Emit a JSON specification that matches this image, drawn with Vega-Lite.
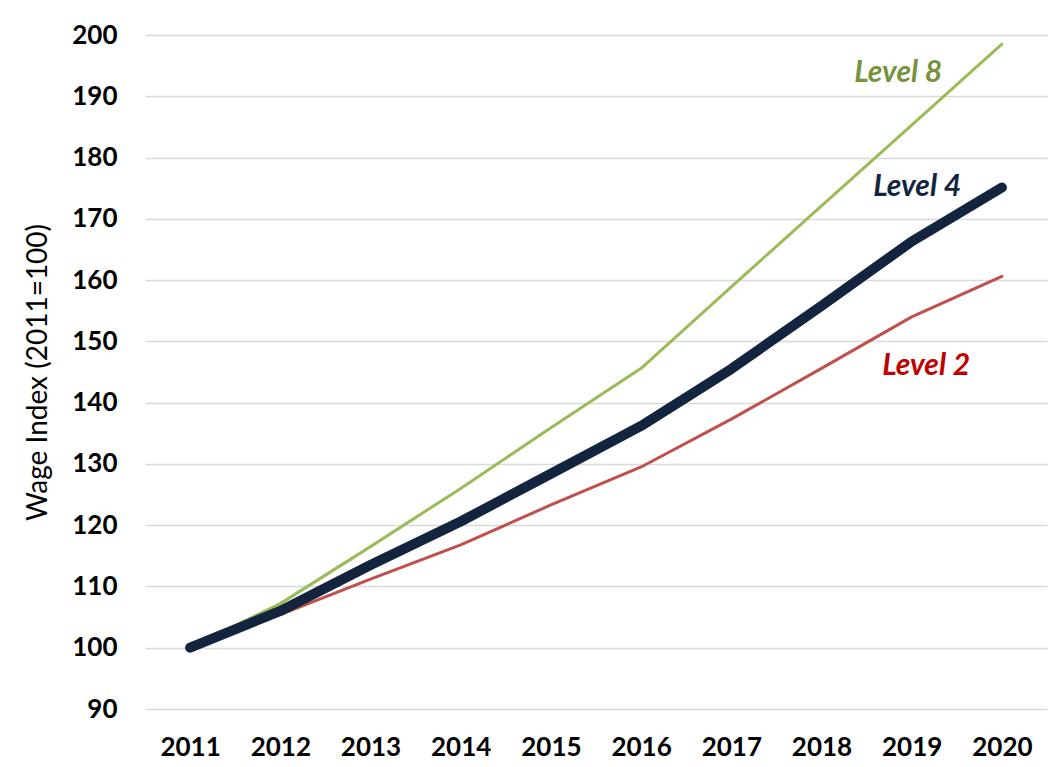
{
  "$schema": "https://vega.github.io/schema/vega-lite/v6.json",
  "autosize": "none",
  "width": 902,
  "height": 674,
  "padding": {"left": 145, "top": 35, "right": 5, "bottom": 58},
  "background": "white",
  "config": {
    "font": "Lato",
    "view": {"stroke": null}
  },
  "datasets": {
    "series": [
      {"year": 2011, "level": "Level 8", "index": 100},
      {"year": 2012, "level": "Level 8", "index": 107.2},
      {"year": 2013, "level": "Level 8", "index": 116.5},
      {"year": 2014, "level": "Level 8", "index": 126.0},
      {"year": 2015, "level": "Level 8", "index": 135.9},
      {"year": 2016, "level": "Level 8", "index": 145.6},
      {"year": 2017, "level": "Level 8", "index": 158.9},
      {"year": 2018, "level": "Level 8", "index": 172.1},
      {"year": 2019, "level": "Level 8", "index": 185.3},
      {"year": 2020, "level": "Level 8", "index": 198.5},
      {"year": 2011, "level": "Level 2", "index": 100},
      {"year": 2012, "level": "Level 2", "index": 105.4},
      {"year": 2013, "level": "Level 2", "index": 111.2},
      {"year": 2014, "level": "Level 2", "index": 116.8},
      {"year": 2015, "level": "Level 2", "index": 123.3},
      {"year": 2016, "level": "Level 2", "index": 129.5},
      {"year": 2017, "level": "Level 2", "index": 137.3},
      {"year": 2018, "level": "Level 2", "index": 145.6},
      {"year": 2019, "level": "Level 2", "index": 154.0},
      {"year": 2020, "level": "Level 2", "index": 160.6},
      {"year": 2011, "level": "Level 4", "index": 100},
      {"year": 2012, "level": "Level 4", "index": 106.0},
      {"year": 2013, "level": "Level 4", "index": 113.5},
      {"year": 2014, "level": "Level 4", "index": 120.6},
      {"year": 2015, "level": "Level 4", "index": 128.4},
      {"year": 2016, "level": "Level 4", "index": 136.2},
      {"year": 2017, "level": "Level 4", "index": 145.5},
      {"year": 2018, "level": "Level 4", "index": 155.8},
      {"year": 2019, "level": "Level 4", "index": 166.3},
      {"year": 2020, "level": "Level 4", "index": 175.1}
    ],
    "labels": [
      {"year": 2018.85, "index": 193.8, "level": "Level 8"},
      {"year": 2019.06, "index": 175.2, "level": "Level 4"},
      {"year": 2019.16, "index": 146.0, "level": "Level 2"}
    ]
  },
  "encoding": {
    "x": {
      "field": "year", "type": "quantitative",
      "scale": {"domain": [2010.5, 2020.5], "nice": false, "zero": false},
      "axis": {
        "values": [2011, 2012, 2013, 2014, 2015, 2016, 2017, 2018, 2019, 2020],
        "format": "d", "title": null, "grid": false, "domain": false, "ticks": false,
        "labelFont": "Lato", "labelFontWeight": "bold", "labelFontSize": 26,
        "labelColor": "#000000", "labelPadding": 25
      }
    },
    "y": {
      "field": "index", "type": "quantitative",
      "scale": {"domain": [90, 200], "nice": false, "zero": false},
      "axis": {
        "values": [90, 100, 110, 120, 130, 140, 150, 160, 170, 180, 190, 200],
        "title": "Wage Index (2011=100)", "titleFont": "Lato", "titleFontSize": 28,
        "titleFontWeight": "normal", "titleColor": "#000000", "titlePadding": 19,
        "domain": false, "ticks": false, "grid": true, "gridColor": "#D9D9D9", "gridWidth": 1.5,
        "labelFont": "Lato", "labelFontWeight": "bold", "labelFontSize": 26,
        "labelColor": "#000000", "labelPadding": 28
      }
    }
  },
  "layer": [
    {
      "data": {"name": "series"},
      "transform": [{"filter": "datum.level !== 'Level 4'"}],
      "mark": {"type": "line", "interpolate": "linear", "strokeWidth": 3, "strokeCap": "round", "strokeJoin": "round"},
      "encoding": {
        "detail": {"field": "level"},
        "color": {
          "field": "level", "type": "nominal", "legend": null,
          "scale": {"domain": ["Level 8", "Level 4", "Level 2"], "range": ["#9BBB59", "#13243F", "#C0504D"]}
        }
      }
    },
    {
      "data": {"name": "series"},
      "transform": [{"filter": "datum.level === 'Level 4'"}],
      "mark": {"type": "line", "interpolate": "linear", "strokeWidth": 10, "strokeCap": "round", "strokeJoin": "round", "color": "#13243F"},
      "encoding": {}
    },
    {
      "data": {"name": "labels"},
      "mark": {"type": "text", "fontSize": 30, "fontWeight": "bold", "fontStyle": "italic", "font": "Lato", "align": "center", "baseline": "middle"},
      "encoding": {
        "text": {"field": "level"},
        "color": {
          "field": "level", "type": "nominal", "legend": null,
          "scale": {"domain": ["Level 8", "Level 4", "Level 2"], "range": ["#77933C", "#13243F", "#C00000"]}
        }
      }
    }
  ],
  "resolve": {"scale": {"color": "independent"}}
}
